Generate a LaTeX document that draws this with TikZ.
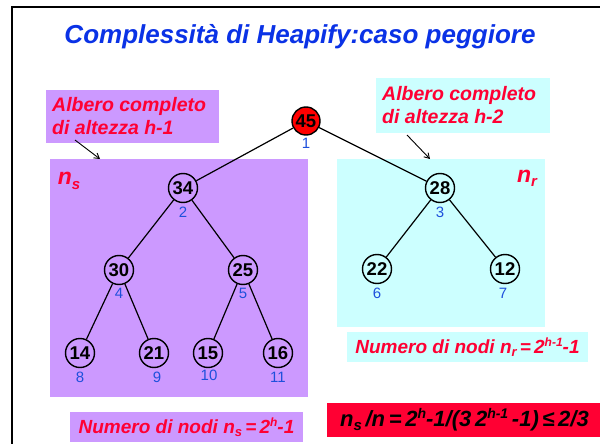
\documentclass[tikz,border=0pt]{standalone}
\usepackage{fontspec}
\setmainfont{Liberation Sans}
\usetikzlibrary{arrows.meta}
\definecolor{ttl}{RGB}{10,50,230}
\definecolor{lab}{RGB}{255,0,51}
\definecolor{pur}{RGB}{204,153,255}
\definecolor{cya}{RGB}{204,255,255}
\definecolor{idx}{RGB}{30,80,220}
\newcommand\dn[2][13]{\raisebox{-0.35ex}{\fontsize{#1}{#1}\selectfont #2}}
\newcommand\up[2][12]{\raisebox{0.7ex}{\fontsize{#1}{#1}\selectfont #2}}
\begin{document}
\begin{tikzpicture}[x=1pt,y=-1pt,
  hnode/.style={circle,draw,fill=none,line width=1.4pt,minimum size=29pt,inner sep=0pt,
    font=\fontsize{18.5}{18.5}\selectfont\bfseries},
  hidx/.style={text=idx,inner sep=0pt,font=\fontsize{15}{15}\selectfont},
  region/.style={rectangle,inner sep=0pt},
  lbox/.style={rectangle,inner sep=0pt,text=lab,align=left,
    font=\fontsize{19.5}{23}\selectfont\bfseries\itshape},
  fbox/.style={rectangle,inner sep=0pt,font=\fontsize{19}{19}\selectfont\bfseries\itshape},
  edge/.style={line width=1.2pt},
  pointer/.style={line width=0.9pt,-{Straight Barb[length=5pt,width=6pt]}}]
\useasboundingbox (0,0) rectangle (600,444);
\fill[white] (0,0) rectangle (600,444);
\draw[line width=2.5pt] (12,7) rectangle (620,470);
% title
\node[text=ttl,font=\fontsize{26}{26}\selectfont\bfseries\itshape] (title) at (300,37) {Complessità di Heapify:caso peggiore};
% regions
\node[region,fill=pur,minimum width=258pt,minimum height=238pt] (ls) at (179,278) {};
\node[region,fill=cya,minimum width=208pt,minimum height=168pt] (rs) at (441,243) {};
% label boxes
\node[region,fill=pur,minimum width=173pt,minimum height=53pt] (lb) at (132.5,116.5) {};
\node[lbox,anchor=west] (lbt) at (52,116.5) {Albero completo\\di altezza h-1};
\node[region,fill=cya,minimum width=174pt,minimum height=55pt] (rb) at (463,105.5) {};
\node[lbox,anchor=west] (rbt) at (382,105.5) {Albero completo\\di altezza h-2};
\coordinate (la1) at (75,140); \coordinate (la2) at (100,159);
\coordinate (ra1) at (407,135); \coordinate (ra2) at (430,159);
\draw[pointer] (la1) -- (la2);
\draw[pointer] (ra1) -- (ra2);
% region names
\node[text=lab,font=\fontsize{23}{23}\selectfont\bfseries\itshape,inner sep=0pt] (ns) at (69,181) {n\dn[15]{s}};
\node[text=lab,font=\fontsize{23}{23}\selectfont\bfseries\itshape,inner sep=0pt] (nr) at (527,178) {n\dn[15]{r}};
% tree nodes
\node[hnode,fill=red,minimum size=28pt] (n1) at (306,121) {45};
\node[hnode] (n2) at (183,188) {34};
\node[hnode] (n3) at (440,188) {28};
\node[hnode] (n4) at (119,270) {30};
\node[hnode] (n5) at (243,270) {25};
\node[hnode] (n6) at (377,269) {22};
\node[hnode] (n7) at (505,269) {12};
\node[hnode] (n8) at (80,353) {14};
\node[hnode] (n9) at (154,353) {21};
\node[hnode] (n10) at (208,353) {15};
\node[hnode] (n11) at (278,353) {16};
\foreach \a/\b in {n1/n2,n1/n3,n2/n4,n2/n5,n3/n6,n3/n7,n4/n8,n4/n9,n5/n10,n5/n11}
  \draw[edge] (\a) -- (\b);
% indices
\node[hidx] (i1) at (306,143) {1};
\node[hidx] (i2) at (183,212) {2};
\node[hidx] (i3) at (440,212) {3};
\node[hidx] (i4) at (119,293) {4};
\node[hidx] (i5) at (243,293) {5};
\node[hidx] (i6) at (377,293) {6};
\node[hidx] (i7) at (503,293) {7};
\node[hidx] (i8) at (80,377) {8};
\node[hidx] (i9) at (157,377) {9};
\node[hidx] (i10) at (209,375) {10};
\node[hidx] (i11) at (278,377) {11};
% formula boxes
\node[fbox,fill=cya,text=lab,minimum width=241pt,minimum height=30pt] (fr) at (467.5,347) {Numero di nodi n\dn{r}\,=\,2\up{h-1}-1};
\node[fbox,fill=pur,text=lab,minimum width=233pt,minimum height=30pt] (fs) at (186.5,427) {Numero di nodi n\dn{s}\,=\,2\up{h}-1};
\node[fbox,fill=lab,text=black,minimum width=275pt,minimum height=34pt,font=\fontsize{22}{22}\selectfont\bfseries\itshape] (fq) at (464.5,420) {n\dn[15]{s}\,/n\,=\,2\up[14]{h}-1/(3\,2\up[14]{h-1}\,-1)\,≤\,2/3};
\end{tikzpicture}
\end{document}
